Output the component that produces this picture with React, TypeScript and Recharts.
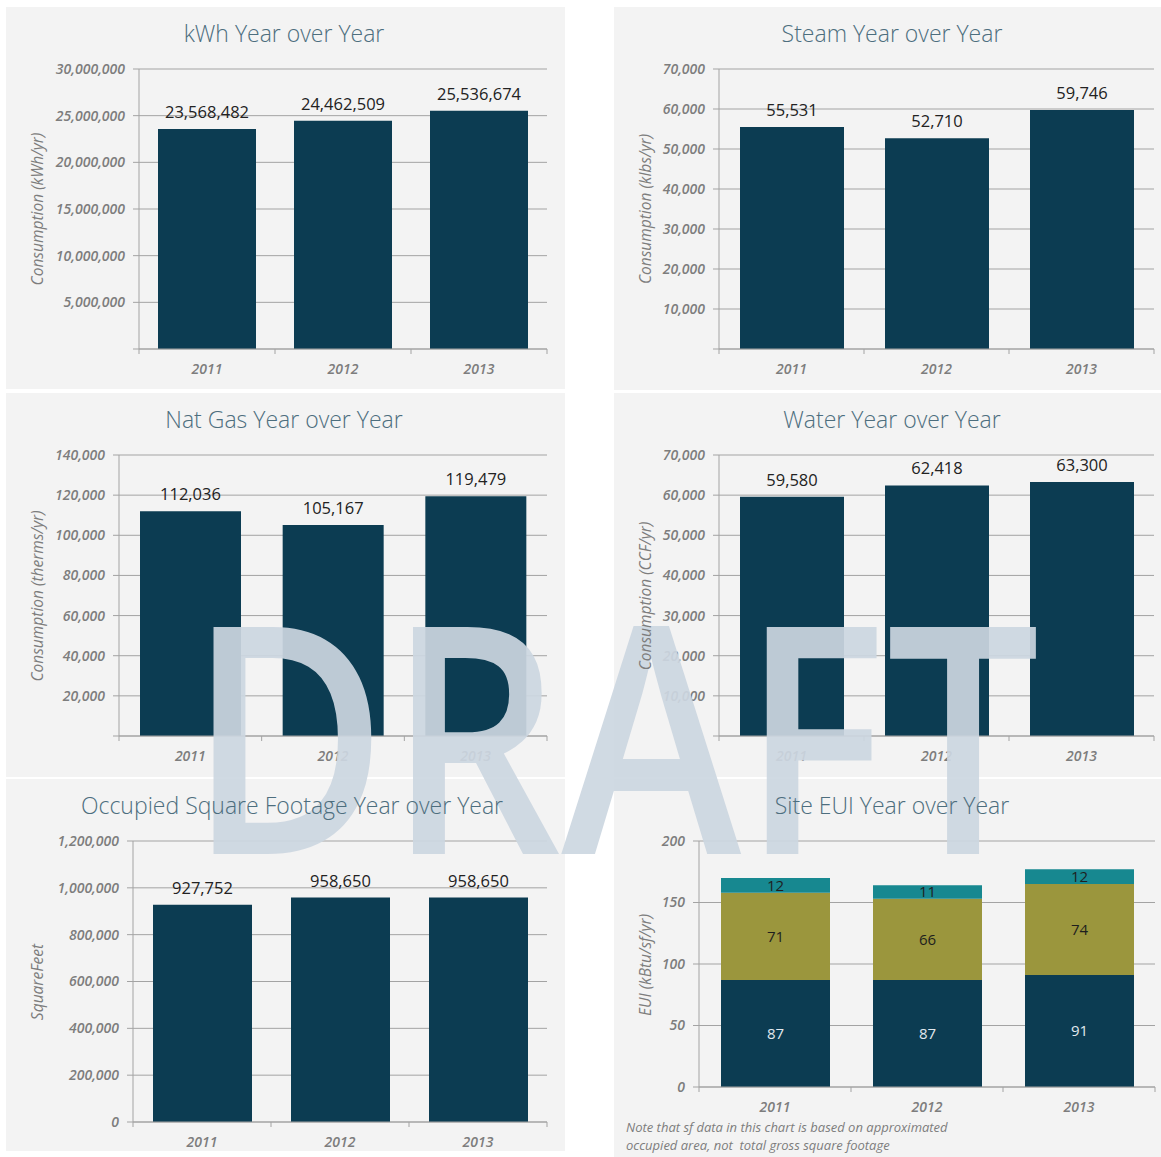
import React from "react";
import { BarChart, Bar, XAxis, YAxis, CartesianGrid, LabelList } from "recharts";

const years = ["2011", "2012", "2013"];

const kwhValues = [23568482, 24462509, 25536674];
const kwhTicks = [0, 5000000, 10000000, 15000000, 20000000, 25000000, 30000000];

const steamValues = [55531, 52710, 59746];
const steamTicks = [0, 10000, 20000, 30000, 40000, 50000, 60000, 70000];

const gasValues = [112036, 105167, 119479];
const gasTicks = [0, 20000, 40000, 60000, 80000, 100000, 120000, 140000];

const waterValues = [59580, 62418, 63300];
const waterTicks = [0, 10000, 20000, 30000, 40000, 50000, 60000, 70000];

const sqftValues = [927752, 958650, 958650];
const sqftTicks = [0, 200000, 400000, 600000, 800000, 1000000, 1200000];

// site EUI stack, bottom to top
const euiBase = [87, 87, 91];
const euiMid = [71, 66, 74];
const euiTop = [12, 11, 12];
const euiTicks = [0, 50, 100, 150, 200];

const NAVY = "#0c3c52";
const OLIVE = "#9b963d";
const TEAL = "#178890";
const PANEL = "#f3f3f3";
const GRID = "#a3a3a3";
const MUTED = "#7d7d7d";
const TITLE = "#4d6e7e";
const FONT = "'Open Sans', 'DejaVu Sans', sans-serif";

const fmt = (v: any) => Number(v).toLocaleString("en-US");

type Box = { left: number; top: number; w: number; h: number };
type Plot = { l: number; r: number; t: number; b: number };

function YearTick(props: any) {
  const { x, y, payload, index, visibleTicksCount, band } = props;
  const half = band / 2;
  return (
    <g>
      <line x1={x - half} y1={y} x2={x - half} y2={y + 5} stroke={GRID} />
      {index === visibleTicksCount - 1 && <line x1={x + half} y1={y} x2={x + half} y2={y + 5} stroke={GRID} />}
      <text
        x={x}
        y={y + 25}
        textAnchor="middle"
        fill={MUTED}
        fontSize={14}
        fontStyle="italic"
        fontWeight={600}
        fontFamily={FONT}
      >
        {payload.value}
      </text>
    </g>
  );
}

function Panel({
  box,
  title,
  titleX,
  yLabel,
  yLabelY,
  yLabelX,
  children,
  extra,
}: {
  box: Box;
  title: string;
  titleX: number;
  yLabel: string;
  yLabelY: number;
  yLabelX: number;
  children: React.ReactNode;
  extra?: React.ReactNode;
}) {
  return (
    <div style={{ position: "absolute", left: box.left, top: box.top, width: box.w, height: box.h, background: PANEL }}>
      <div style={{ position: "absolute", left: 0, top: 0, zIndex: 1 }}>{children}</div>
      <div
        style={{
          position: "absolute",
          zIndex: 3,
          left: titleX - box.left,
          top: 11,
          transform: "translateX(-50%)",
          whiteSpace: "nowrap",
          fontFamily: FONT,
          fontWeight: 300,
          fontSize: 23,
          lineHeight: "30px",
          color: TITLE,
        }}
      >
        {title}
      </div>
      <div
        style={{
          position: "absolute",
          zIndex: 3,
          left: yLabelX - box.left,
          top: yLabelY - box.top,
          transform: "translate(-50%, -50%) rotate(-90deg)",
          whiteSpace: "nowrap",
          fontFamily: FONT,
          fontStyle: "italic",
          fontSize: 15.5,
          color: MUTED,
        }}
      >
        {yLabel}
      </div>
      {extra}
    </div>
  );
}

function chartFrame(box: Box, plot: Plot, bottomMargin = 10) {
  return {
    width: box.w,
    height: box.h,
    margin: { top: plot.t - box.top, right: box.left + box.w - plot.r, bottom: bottomMargin, left: 0 },
    yWidth: plot.l - box.left,
    xHeight: box.top + box.h - plot.b - bottomMargin,
    band: (plot.r - plot.l) / years.length,
  };
}

function axes(f: ReturnType<typeof chartFrame>, ticks: number[], hideZero: boolean) {
  return [
    <CartesianGrid key="g" horizontal vertical={false} stroke={GRID} />,
    <XAxis
      key="x"
      dataKey="year"
      height={f.xHeight}
      axisLine={{ stroke: GRID }}
      tickLine={false}
      tickSize={0}
      tickMargin={0}
      interval={0}
      tick={(p: any) => <YearTick {...p} band={f.band} />}
    />,
    <YAxis
      key="y"
      type="number"
      width={f.yWidth}
      domain={[0, ticks[ticks.length - 1]]}
      ticks={ticks}
      interval={0}
      axisLine={{ stroke: GRID }}
      tickLine={{ stroke: GRID }}
      tickSize={6}
      tickMargin={8}
      tickFormatter={(v: number) => (hideZero && v === 0 ? "" : fmt(v))}
      tick={{ fill: MUTED, fontSize: 14, fontStyle: "italic", fontWeight: 600, fontFamily: FONT }}
    />,
  ];
}

function SingleChart({
  box,
  plot,
  title,
  titleX,
  yLabel,
  yLabelX,
  values,
  ticks,
  barSize,
  hideZero,
}: {
  box: Box;
  plot: Plot;
  title: string;
  titleX: number;
  yLabel: string;
  yLabelX: number;
  values: number[];
  ticks: number[];
  barSize: number;
  hideZero: boolean;
}) {
  const data = years.map((year, i) => ({ year, value: values[i] }));
  const f = chartFrame(box, plot);
  return (
    <Panel box={box} title={title} titleX={titleX} yLabel={yLabel} yLabelX={yLabelX} yLabelY={(plot.t + plot.b) / 2}>
      <BarChart width={f.width} height={f.height} data={data} margin={f.margin}>
        {axes(f, ticks, hideZero)}
        <Bar dataKey="value" fill={NAVY} barSize={barSize} isAnimationActive={false}>
          <LabelList
            dataKey="value"
            position="top"
            offset={11}
            formatter={fmt}
            fill="#222"
            fontSize={16.5}
            fontFamily={FONT}
          />
        </Bar>
      </BarChart>
    </Panel>
  );
}

function EuiChart() {
  const box: Box = { left: 614, top: 779, w: 547, h: 378 };
  const plot: Plot = { l: 699, r: 1155, t: 841, b: 1087 };
  const data = years.map((year, i) => ({ year, base: euiBase[i], mid: euiMid[i], top: euiTop[i] }));
  const f = chartFrame(box, plot, 40);
  const labelStyle = { fontSize: 15, fontFamily: FONT };
  const note = (
    <div
      style={{
        position: "absolute",
        zIndex: 3,
        left: 12,
        top: 339,
        fontFamily: FONT,
        fontStyle: "italic",
        fontSize: 13,
        lineHeight: "18px",
        color: MUTED,
        whiteSpace: "nowrap",
      }}
    >
      Note that sf data in this chart is based on approximated
      <br />
      occupied area, not&nbsp; total gross square footage
    </div>
  );
  return (
    <Panel
      box={box}
      title="Site EUI Year over Year"
      titleX={892}
      yLabel="EUI (kBtu/sf/yr)"
      yLabelX={645}
      yLabelY={965}
      extra={note}
    >
      <BarChart width={f.width} height={f.height} data={data} margin={f.margin}>
        {axes(f, euiTicks, false)}
        <Bar dataKey="base" stackId="eui" fill={NAVY} barSize={109} isAnimationActive={false}>
          <LabelList dataKey="base" position="center" fill="#e2e9ee" {...labelStyle} />
        </Bar>
        <Bar dataKey="mid" stackId="eui" fill={OLIVE} barSize={109} isAnimationActive={false}>
          <LabelList dataKey="mid" position="center" fill="#1e1e1e" {...labelStyle} />
        </Bar>
        <Bar dataKey="top" stackId="eui" fill={TEAL} barSize={109} isAnimationActive={false}>
          <LabelList dataKey="top" position="center" fill="#1e1e1e" {...labelStyle} />
        </Bar>
      </BarChart>
    </Panel>
  );
}

export default function App() {
  return (
    <div style={{ position: "absolute", left: 0, top: 0, width: 1161, height: 1157, background: "#fff", overflow: "hidden" }}>
      <SingleChart
        box={{ left: 6, top: 7, w: 559, h: 382 }}
        plot={{ l: 139, r: 547, t: 69, b: 349 }}
        title="kWh Year over Year"
        titleX={284}
        yLabel="Consumption (kWh/yr)"
        yLabelX={37}
        values={kwhValues}
        ticks={kwhTicks}
        barSize={98}
        hideZero
      />
      <SingleChart
        box={{ left: 614, top: 7, w: 547, h: 383 }}
        plot={{ l: 719, r: 1154, t: 69, b: 349 }}
        title="Steam Year over Year"
        titleX={892}
        yLabel="Consumption (klbs/yr)"
        yLabelX={645}
        values={steamValues}
        ticks={steamTicks}
        barSize={104}
        hideZero
      />
      <SingleChart
        box={{ left: 6, top: 393, w: 559, h: 384 }}
        plot={{ l: 119, r: 547, t: 455, b: 736 }}
        title="Nat Gas Year over Year"
        titleX={284}
        yLabel="Consumption (therms/yr)"
        yLabelX={37}
        values={gasValues}
        ticks={gasTicks}
        barSize={101}
        hideZero
      />
      <SingleChart
        box={{ left: 614, top: 393, w: 547, h: 384 }}
        plot={{ l: 719, r: 1154, t: 455, b: 736 }}
        title="Water Year over Year"
        titleX={892}
        yLabel="Consumption (CCF/yr)"
        yLabelX={645}
        values={waterValues}
        ticks={waterTicks}
        barSize={104}
        hideZero
      />
      <SingleChart
        box={{ left: 6, top: 779, w: 559, h: 372 }}
        plot={{ l: 133, r: 547, t: 841, b: 1122 }}
        title="Occupied Square Footage Year over Year"
        titleX={292}
        yLabel="SquareFeet"
        yLabelX={37}
        values={sqftValues}
        ticks={sqftTicks}
        barSize={99}
        hideZero={false}
      />
      <EuiChart />
      {/* watermark sits above the bars but under the titles */}
      <svg
        width={1161}
        height={1157}
        style={{ position: "absolute", left: 0, top: 0, zIndex: 2, pointerEvents: "none" }}
      >
        <text
          x={188}
          y={854}
          fontSize={318}
          fontFamily="'Open Sans', 'Liberation Sans', sans-serif"
          fontWeight={600}
          textLength={852}
          lengthAdjust="spacingAndGlyphs"
          fill="#cdd7e1"
          opacity={0.92}
        >
          DRAFT
        </text>
      </svg>
    </div>
  );
}
